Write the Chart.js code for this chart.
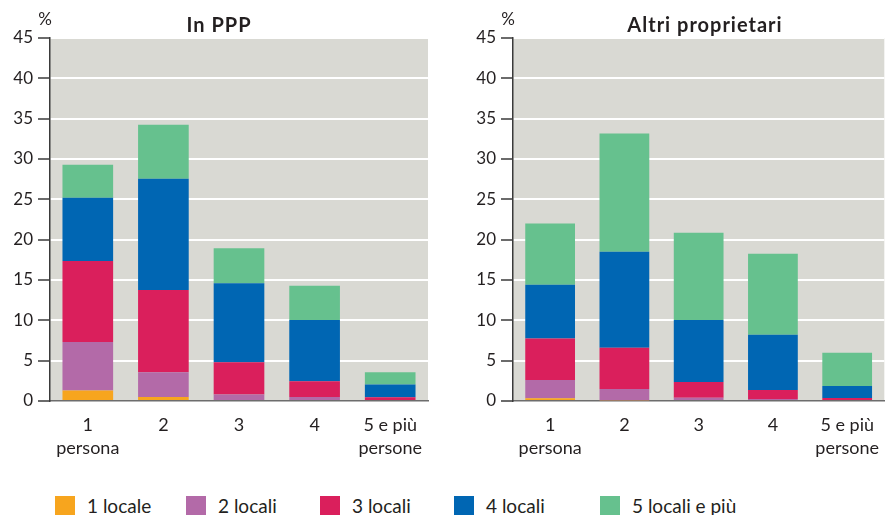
<!DOCTYPE html>
<html>
<head>
<meta charset="utf-8">
<script src="https://cdn.jsdelivr.net/npm/chart.js@4"></script>
<style>
  html,body{margin:0;padding:0;background:#fff;}
  body{width:892px;height:515px;position:relative;overflow:hidden;font-family:Lato,sans-serif;color:#231f20;}
  .pane{position:absolute;top:0;width:446px;height:470px;}
  .pane.left{left:0;}
  .pane.right{left:446px;}
  .legend{position:absolute;left:55px;top:496px;display:flex;}
  .legend-item{display:flex;align-items:flex-start;width:134px;font-size:19px;line-height:20px;white-space:nowrap;}
  .legend-item:nth-child(1){width:131px;}
  .legend-item:nth-child(4){width:146px;}
  .legend-item:nth-child(5){width:auto;}
  .legend-swatch{width:20px;height:20px;margin-right:12px;flex:none;}
</style>
</head>
<body>
<div class="pane left"><canvas id="chartPPP" width="446" height="470"></canvas></div>
<div class="pane right"><canvas id="chartAltri" width="446" height="470"></canvas></div>
<div class="legend" id="legend"></div>

<script>
// household size
const CATEGORIES = [['1', 'persona'], '2', '3', '4', ['5 e più', 'persone']];
// dwelling size (number of rooms)
const SERIES = ['1 locale', '2 locali', '3 locali', '4 locali', '5 locali e più'];
const COLORS = ['#f7a51e', '#b36aa8', '#da1f5c', '#0066b3', '#66c18e'];
const Y_TICKS = [0, 5, 10, 15, 20, 25, 30, 35, 40, 45];

// In PPP, % per household size, one array per dwelling size
const PPP_1 = [1.3, 0.5, 0, 0, 0];
const PPP_2 = [6.0, 3.05, 0.8, 0.5, 0];
const PPP_3 = [10.05, 10.2, 4.0, 1.95, 0.45];
const PPP_4 = [7.85, 13.8, 9.8, 7.6, 1.6];
const PPP_5 = [4.1, 6.7, 4.35, 4.25, 1.5];

// Altri proprietari
const ALTRI_1 = [0.35, 0.1, 0, 0, 0];
const ALTRI_2 = [2.25, 1.4, 0.4, 0.25, 0];
const ALTRI_3 = [5.15, 5.1, 1.95, 1.1, 0.37];
const ALTRI_4 = [6.65, 11.9, 7.7, 6.85, 1.5];
const ALTRI_5 = [7.6, 14.65, 10.8, 10.05, 4.1];

const FONT = 'Lato, sans-serif';
const INK = '#231f20';

// grey plot background plus the "%" unit and panel heading
const panelDecor = {
  id: 'panelDecor',
  beforeDraw(chart) {
    const {ctx, chartArea: a} = chart;
    ctx.save();
    ctx.fillStyle = '#d9d9d3';
    ctx.fillRect(a.left, a.top, a.right - a.left, a.bottom - a.top);
    ctx.restore();
  },
  afterDraw(chart, args, opts) {
    const {ctx, chartArea: a} = chart;
    ctx.save();
    ctx.fillStyle = INK;
    ctx.textAlign = 'center';
    ctx.textBaseline = 'alphabetic';
    ctx.font = '17px ' + FONT;
    ctx.fillText('%', a.left - 5, 25);
    ctx.font = 'bold 20px ' + FONT;
    ctx.letterSpacing = '1px';
    ctx.fillText(opts.title, opts.titleX, 32);
    ctx.restore();
  }
};

function makeChart(id, title, titleX, rows, padLeft, padRight) {
  return new Chart(document.getElementById(id), {
    type: 'bar',
    data: {
      labels: CATEGORIES,
      datasets: rows.map((vals, i) => ({
        label: SERIES[i],
        data: vals,
        backgroundColor: COLORS[i],
        borderWidth: 0,
        categoryPercentage: 1,
        barPercentage: 0.67
      }))
    },
    options: {
      responsive: false,
      animation: false,
      layout: {autoPadding: false, padding: {top: 38, left: padLeft, right: padRight, bottom: 0}},
      plugins: {
        legend: {display: false},
        tooltip: {enabled: false},
        panelDecor: {title: title, titleX: titleX}
      },
      scales: {
        x: {
          stacked: true,
          grid: {display: false, drawTicks: false},
          border: {display: true, color: '#6d6d6d', width: 1.5},
          ticks: {color: INK, font: {family: FONT, size: 18, lineHeight: 1.25}, padding: 13, maxRotation: 0, autoSkip: false},
          afterFit(s) { s.height = 69; }
        },
        y: {
          stacked: true,
          min: 0,
          max: 45,
          afterBuildTicks(s) { s.ticks = Y_TICKS.map(v => ({value: v})); },
          grid: {color: '#ffffff', lineWidth: 2, drawTicks: true, tickLength: 12, tickColor: '#3a3a3a', tickWidth: 1.5},
          border: {display: true, color: '#3a3a3a', width: 1.5},
          ticks: {color: INK, font: {family: FONT, size: 17}, padding: 5},
          afterFit(s) { s.width = 50; }
        }
      }
    },
    plugins: [panelDecor]
  });
}

makeChart('chartPPP', 'In PPP', 219, [PPP_1, PPP_2, PPP_3, PPP_4, PPP_5], 0, 18);
makeChart('chartAltri', 'Altri proprietari', 259, [ALTRI_1, ALTRI_2, ALTRI_3, ALTRI_4, ALTRI_5], 17, 0);

// shared legend under both panels
document.getElementById('legend').innerHTML = SERIES.map((s, i) =>
  `<div class="legend-item"><span class="legend-swatch" style="background:${COLORS[i]}"></span><span>${s}</span></div>`
).join('');
</script>
</body>
</html>
